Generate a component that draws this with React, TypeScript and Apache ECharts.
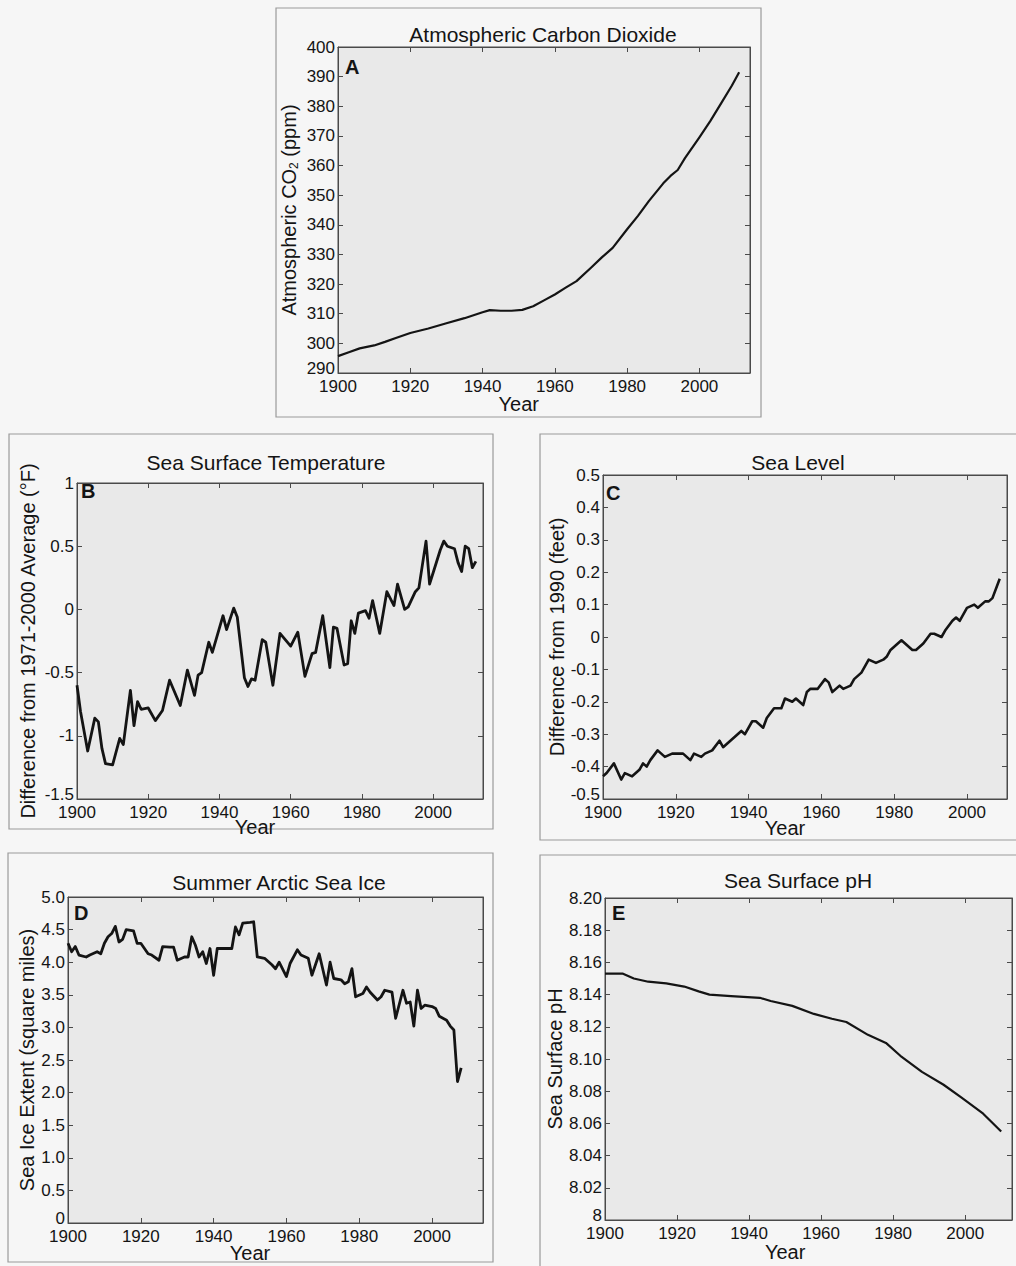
import React, { useEffect, useRef } from "react";
import * as echarts from "echarts";

// ---------- DATA ----------
const co2Years = [1900, 1903, 1906, 1910, 1913, 1916, 1920, 1925, 1930, 1935, 1940, 1942, 1945, 1948, 1951, 1954, 1957, 1960, 1963, 1966, 1970, 1973, 1976, 1980, 1983, 1986, 1990, 1992, 1994, 1996, 2000, 2003, 2006, 2009, 2011];
const co2Values = [295.7, 297, 298.3, 299.3, 300.5, 301.8, 303.5, 305, 306.8, 308.5, 310.5, 311.2, 311, 311, 311.3, 312.5, 314.5, 316.5, 318.8, 321, 325.5, 329, 332.2, 338.5, 343, 348, 354, 356.5, 358.5, 362.5, 369.5, 375, 381, 387, 391.5];

const sstYears = [1900, 1901, 1903, 1905, 1906, 1907, 1908, 1910, 1912, 1913, 1915, 1916, 1917, 1918, 1920, 1922, 1924, 1926, 1929, 1931, 1933, 1934, 1935, 1937, 1938, 1941, 1942, 1944, 1945, 1947, 1948, 1949, 1950, 1952, 1953, 1955, 1957, 1960, 1962, 1964, 1966, 1967, 1969, 1971, 1972, 1973, 1975, 1976, 1977, 1978, 1979, 1981, 1982, 1983, 1985, 1987, 1989, 1990, 1992, 1993, 1995, 1996, 1998, 1999, 2000, 2002, 2003, 2004, 2006, 2007, 2008, 2009, 2010, 2011, 2012];
const sstValues = [-0.6, -0.81, -1.12, -0.86, -0.89, -1.1, -1.22, -1.23, -1.02, -1.07, -0.64, -0.92, -0.73, -0.79, -0.78, -0.88, -0.8, -0.56, -0.76, -0.48, -0.68, -0.52, -0.5, -0.26, -0.34, -0.05, -0.16, 0.01, -0.06, -0.54, -0.61, -0.55, -0.56, -0.24, -0.26, -0.6, -0.19, -0.29, -0.18, -0.53, -0.35, -0.34, -0.05, -0.46, -0.14, -0.15, -0.44, -0.43, -0.09, -0.19, -0.03, -0.01, -0.07, 0.07, -0.19, 0.14, 0.03, 0.2, 0.0, 0.02, 0.14, 0.17, 0.54, 0.2, 0.29, 0.47, 0.54, 0.5, 0.48, 0.37, 0.3, 0.5, 0.48, 0.33, 0.38];

const seaYears = [1900, 1901, 1903, 1905, 1906, 1908, 1910, 1911, 1912, 1913, 1915, 1917, 1919, 1921, 1922, 1924, 1925, 1927, 1928, 1930, 1932, 1933, 1935, 1936, 1938, 1939, 1941, 1942, 1944, 1945, 1947, 1949, 1950, 1952, 1953, 1955, 1956, 1957, 1959, 1961, 1962, 1963, 1965, 1966, 1968, 1969, 1971, 1973, 1975, 1977, 1978, 1979, 1981, 1982, 1983, 1985, 1986, 1988, 1990, 1991, 1993, 1994, 1996, 1997, 1998, 1999, 2000, 2002, 2003, 2005, 2006, 2007, 2009];
const seaValues = [-0.43, -0.42, -0.39, -0.44, -0.42, -0.43, -0.41, -0.39, -0.4, -0.38, -0.35, -0.37, -0.36, -0.36, -0.36, -0.38, -0.36, -0.37, -0.36, -0.35, -0.32, -0.34, -0.32, -0.31, -0.29, -0.3, -0.26, -0.26, -0.28, -0.25, -0.22, -0.22, -0.19, -0.2, -0.19, -0.21, -0.17, -0.16, -0.16, -0.13, -0.14, -0.17, -0.15, -0.16, -0.15, -0.13, -0.11, -0.07, -0.08, -0.07, -0.06, -0.04, -0.02, -0.01, -0.02, -0.04, -0.04, -0.02, 0.01, 0.01, 0.0, 0.02, 0.05, 0.06, 0.05, 0.07, 0.09, 0.1, 0.09, 0.11, 0.11, 0.12, 0.18];

const iceYears = [1900, 1901, 1902, 1903, 1905, 1906, 1908, 1909, 1910, 1911, 1912, 1913, 1914, 1915, 1916, 1918, 1919, 1920, 1922, 1923, 1925, 1926, 1928, 1929, 1930, 1932, 1933, 1934, 1935, 1936, 1937, 1938, 1939, 1940, 1941, 1943, 1945, 1946, 1947, 1948, 1950, 1951, 1952, 1954, 1956, 1957, 1958, 1960, 1961, 1963, 1964, 1966, 1967, 1969, 1971, 1972, 1973, 1975, 1976, 1977, 1978, 1979, 1981, 1982, 1983, 1985, 1986, 1987, 1989, 1990, 1992, 1993, 1994, 1995, 1996, 1997, 1998, 2000, 2001, 2002, 2004, 2005, 2006, 2007, 2008];
const iceValues = [4.29, 4.16, 4.24, 4.11, 4.08, 4.11, 4.16, 4.13, 4.29, 4.39, 4.44, 4.55, 4.31, 4.35, 4.5, 4.48, 4.29, 4.29, 4.13, 4.11, 4.03, 4.24, 4.23, 4.23, 4.03, 4.08, 4.08, 4.39, 4.26, 4.08, 4.16, 3.98, 4.21, 3.8, 4.21, 4.21, 4.21, 4.54, 4.42, 4.6, 4.61, 4.62, 4.08, 4.06, 3.96, 3.9, 4.0, 3.78, 3.98, 4.19, 4.11, 4.06, 3.8, 4.13, 3.65, 4.0, 3.75, 3.73, 3.67, 3.7, 3.9, 3.47, 3.52, 3.62, 3.54, 3.42, 3.47, 3.57, 3.54, 3.14, 3.57, 3.37, 3.39, 3.02, 3.57, 3.29, 3.34, 3.32, 3.29, 3.17, 3.11, 3.02, 2.96, 2.17, 2.38];

const phYears = [1900, 1905, 1908, 1912, 1917, 1922, 1926, 1929, 1935, 1943, 1946, 1952, 1958, 1963, 1967, 1973, 1978, 1982, 1988, 1994, 1999, 2005, 2010];
const phValues = [8.153, 8.153, 8.15, 8.148, 8.147, 8.145, 8.142, 8.14, 8.139, 8.138, 8.136, 8.133, 8.128, 8.125, 8.123, 8.115, 8.11, 8.102, 8.092, 8.084, 8.076, 8.066, 8.055];

const xTickStart = 1900;
const xTickStep = 20;

const FONT = "'Liberation Sans', Arial, Helvetica, sans-serif";
const INK = "#141414";
const AXIS = "#4a4a4a";

type Panel = {
  letter: string;
  title: string;
  yName: string;
  rich?: any;
  years: number[];
  values: number[];
  grid: { left: number; top: number; width: number; height: number };
  xMax: number;
  yMin: number;
  yMax: number;
  yInterval: number;
  nameGap: number;
  fmt: (v: number) => string;
  lineWidth: number;
  frame: [number, number, number, number];
  titlePos: [number, number];
  letterPos: [number, number];
  yearDy: number;
};

const panels: Panel[] = [
  {
    letter: "A",
    title: "Atmospheric Carbon Dioxide",
    yName: "Atmospheric CO{sub|2} (ppm)",
    rich: { sub: { fontSize: 12, fontFamily: FONT, color: INK, padding: [10, 0, 0, 0] } },
    years: co2Years,
    values: co2Values,
    grid: { left: 338, top: 47, width: 412, height: 326 },
    xMax: 2014,
    yMin: 290,
    yMax: 400,
    yInterval: 10,
    nameGap: 38,
    fmt: (v) => String(v),
    lineWidth: 2.2,
    frame: [276, 8, 485, 409],
    titlePos: [543, 34],
    letterPos: [345, 57],
    yearDy: 31,
  },
  {
    letter: "B",
    title: "Sea Surface Temperature",
    yName: "Difference from 1971-2000 Average (°F)",
    years: sstYears,
    values: sstValues,
    grid: { left: 77, top: 483, width: 406, height: 316 },
    xMax: 2014,
    yMin: -1.5,
    yMax: 1,
    yInterval: 0.5,
    nameGap: 39,
    fmt: (v) => String(Math.round(v * 10) / 10),
    lineWidth: 2.8,
    frame: [9, 434, 484, 395],
    titlePos: [266, 462],
    letterPos: [81, 481],
    yearDy: 28,
  },
  {
    letter: "C",
    title: "Sea Level",
    yName: "Difference from 1990 (feet)",
    years: seaYears,
    values: seaValues,
    grid: { left: 603, top: 475, width: 404, height: 324 },
    xMax: 2011,
    yMin: -0.5,
    yMax: 0.5,
    yInterval: 0.1,
    nameGap: 36,
    fmt: (v) => (Math.abs(v) < 1e-9 ? "0" : (Math.round(v * 10) / 10).toFixed(1)),
    lineWidth: 2.6,
    frame: [540, 434, 480, 406],
    titlePos: [798, 462],
    letterPos: [606, 483],
    yearDy: 29,
  },
  {
    letter: "D",
    title: "Summer Arctic Sea Ice",
    yName: "Sea Ice Extent (square miles)",
    years: iceYears,
    values: iceValues,
    grid: { left: 68, top: 897, width: 415, height: 326 },
    xMax: 2014,
    yMin: 0,
    yMax: 5,
    yInterval: 0.5,
    nameGap: 31,
    fmt: (v) => (Math.abs(v) < 1e-9 ? "0" : v.toFixed(1)),
    lineWidth: 2.8,
    frame: [8, 853, 485, 409],
    titlePos: [279, 882],
    letterPos: [74, 903],
    yearDy: 30,
  },
  {
    letter: "E",
    title: "Sea Surface pH",
    yName: "Sea Surface pH",
    years: phYears,
    values: phValues,
    grid: { left: 605, top: 898, width: 407, height: 322 },
    xMax: 2013,
    yMin: 8,
    yMax: 8.2,
    yInterval: 0.02,
    nameGap: 40,
    fmt: (v) => (Math.abs(v - 8) < 1e-9 ? "8" : v.toFixed(2)),
    lineWidth: 2.2,
    frame: [540, 855, 480, 420],
    titlePos: [798, 880],
    letterPos: [612, 903],
    yearDy: 32,
  },
];

function buildOption() {
  const grid: any[] = [];
  const xAxis: any[] = [];
  const yAxis: any[] = [];
  const series: any[] = [];
  const graphic: any[] = [];

  panels.forEach((p, i) => {
    grid.push({
      ...p.grid,
      show: true,
      backgroundColor: "#e9e9e9",
      borderColor: AXIS,
      borderWidth: 1,
      containLabel: false,
    });
    const axisLine = { show: true, onZero: false, lineStyle: { color: AXIS, width: 1 } };
    const tick = { show: true, inside: true, length: 5, lineStyle: { color: AXIS, width: 1 } };
    xAxis.push({
      type: "value",
      gridIndex: i,
      position: "bottom",
      min: xTickStart,
      max: p.xMax,
      interval: xTickStep,
      axisLine,
      axisTick: tick,
      splitLine: { show: false },
      axisLabel: {
        show: true,
        fontSize: 17,
        fontFamily: FONT,
        color: INK,
        margin: 5,
        showMaxLabel: false,
        formatter: (v: number) => String(v),
      },
    });
    xAxis.push({
      type: "value",
      gridIndex: i,
      position: "top",
      min: xTickStart,
      max: p.xMax,
      interval: xTickStep,
      axisLine,
      axisTick: tick,
      splitLine: { show: false },
      axisLabel: { show: false },
    });
    yAxis.push({
      type: "value",
      gridIndex: i,
      position: "left",
      min: p.yMin,
      max: p.yMax,
      interval: p.yInterval,
      axisLine,
      axisTick: tick,
      splitLine: { show: false },
      axisLabel: {
        fontSize: 17,
        fontFamily: FONT,
        color: INK,
        margin: 3,
        formatter: (v: number) =>
          Math.abs(v - p.yMin) < 1e-9 ? `{low|${p.fmt(v)}}` : p.fmt(v),
        rich: {
          low: { fontSize: 17, fontFamily: FONT, color: INK, padding: [0, 0, 9, 0] },
        },
      },
      name: p.yName,
      nameLocation: "middle",
      nameGap: p.nameGap,
      nameTextStyle: {
        fontSize: 20,
        fontFamily: FONT,
        color: INK,
        rich: p.rich,
      },
    });
    yAxis.push({
      type: "value",
      gridIndex: i,
      position: "right",
      min: p.yMin,
      max: p.yMax,
      interval: p.yInterval,
      axisLine,
      axisTick: tick,
      splitLine: { show: false },
      axisLabel: { show: false },
    });
    series.push({
      type: "line",
      xAxisIndex: i * 2,
      yAxisIndex: i * 2,
      data: p.years.map((y, k) => [y, p.values[k]]),
      showSymbol: false,
      symbol: "none",
      lineStyle: { color: INK, width: p.lineWidth, join: "round" },
      z: 5,
    });

    graphic.push({
      type: "rect",
      silent: true,
      z: -10,
      shape: { x: p.frame[0], y: p.frame[1], width: p.frame[2], height: p.frame[3] },
      style: { fill: "none", stroke: "#9a9a9a", lineWidth: 1.2 },
    });
    graphic.push({
      type: "text",
      silent: true,
      z: 100,
      x: p.titlePos[0],
      y: p.titlePos[1],
      style: {
        text: p.title,
        font: `21px ${FONT}`,
        fill: INK,
        align: "center",
        verticalAlign: "middle",
      },
    });
    graphic.push({
      type: "text",
      silent: true,
      z: 100,
      x: p.letterPos[0],
      y: p.letterPos[1],
      style: {
        text: p.letter,
        font: `bold 20px ${FONT}`,
        fill: INK,
        align: "left",
        verticalAlign: "top",
      },
    });
    const pxPerYear = p.grid.width / (p.xMax - xTickStart);
    graphic.push({
      type: "text",
      silent: true,
      z: 100,
      x: p.grid.left + (1950 - xTickStart) * pxPerYear,
      y: p.grid.top + p.grid.height + p.yearDy,
      style: {
        text: "Year",
        font: `20px ${FONT}`,
        fill: INK,
        align: "center",
        verticalAlign: "middle",
      },
    });
  });

  return {
    animation: false,
    backgroundColor: "#f6f6f6",
    grid,
    xAxis,
    yAxis,
    series,
    graphic,
  };
}

export default function App() {
  const ref = useRef<HTMLDivElement>(null);
  useEffect(() => {
    document.body.style.margin = "0";
    document.body.style.background = "#f6f6f6";
    if (!ref.current) return;
    const chart = echarts.init(ref.current, undefined, { renderer: "svg" });
    chart.setOption(buildOption() as any);
    return () => chart.dispose();
  }, []);
  return <div ref={ref} style={{ width: 1016, height: 1266 }} />;
}
